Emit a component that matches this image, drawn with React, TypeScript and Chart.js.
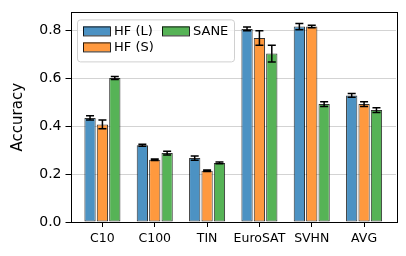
import React, { useEffect, useRef } from "react";
import { Chart, registerables } from "chart.js";

Chart.register(...registerables);

const categories = ["C10", "C100", "TIN", "EuroSAT", "SVHN", "AVG"];
const seriesNames = ["HF (L)", "HF (S)", "SANE"];
const hfL = [0.435, 0.321, 0.267, 0.807, 0.817, 0.529];
const hfS = [0.408, 0.26, 0.214, 0.769, 0.817, 0.493];
const sane = [0.602, 0.288, 0.247, 0.704, 0.493, 0.468];
const hfLErr = [0.009, 0.004, 0.009, 0.008, 0.013, 0.008];
const hfSErr = [0.018, 0.003, 0.003, 0.03, 0.005, 0.01];
const saneErr = [0.006, 0.008, 0.004, 0.035, 0.01, 0.01];
const yTicks = [0, 0.2, 0.4, 0.6, 0.8];

const colors = ["#4c92c3", "#ff993e", "#56b356"];
const FONT = "'DejaVu Sans', sans-serif";

export default function App() {
  const ref = useRef<HTMLCanvasElement | null>(null);
  useEffect(() => {
    document.body.style.margin = "0";
    const values = [hfL, hfS, sane];
    const errs = [hfLErr, hfSErr, saneErr];

    const errorBars = {
      id: "errorBars",
      afterDatasetsDraw(chart: any) {
        const ctx = chart.ctx;
        const ys = chart.scales.y;
        ctx.save();
        ctx.strokeStyle = "#000";
        ctx.lineWidth = 1.5;
        values.forEach((vals, di) => {
          const meta = chart.getDatasetMeta(di);
          meta.data.forEach((el: any, j: number) => {
            const x = el.x;
            const t = ys.getPixelForValue(vals[j] + errs[di][j]);
            const b = ys.getPixelForValue(vals[j] - errs[di][j]);
            ctx.beginPath();
            ctx.moveTo(x, t);
            ctx.lineTo(x, b);
            ctx.moveTo(x - 4, t);
            ctx.lineTo(x + 4, t);
            ctx.moveTo(x - 4, b);
            ctx.lineTo(x + 4, b);
            ctx.stroke();
          });
        });
        ctx.restore();
      },
    };

    const frameAndLegend = {
      id: "frameAndLegend",
      afterDraw(chart: any) {
        const ctx = chart.ctx;
        const a = chart.chartArea;
        ctx.save();
        // legend
        const lx = a.left + 6.5;
        const ly = a.top + 7;
        const lw = 157;
        const lh = 42;
        ctx.fillStyle = "rgba(255,255,255,0.8)";
        ctx.strokeStyle = "#d0d0d0";
        ctx.lineWidth = 1;
        ctx.beginPath();
        (ctx as any).roundRect(lx + 0.5, ly + 0.5, lw, lh, 3);
        ctx.fill();
        ctx.stroke();
        const entries = [
          { i: 0, col: 0, row: 0 },
          { i: 2, col: 1, row: 0 },
          { i: 1, col: 0, row: 1 },
        ];
        ctx.font = `13px ${FONT}`;
        ctx.textBaseline = "middle";
        entries.forEach((e) => {
          const px = lx + 6 + e.col * 79;
          const py = ly + 7 + e.row * 16;
          ctx.fillStyle = colors[e.i];
          ctx.fillRect(px, py, 27, 9);
          ctx.strokeStyle = "rgba(0,0,0,0.85)";
          ctx.lineWidth = 1;
          ctx.strokeRect(px + 0.5, py + 0.5, 27, 9);
          ctx.fillStyle = "#000";
          ctx.fillText(seriesNames[e.i], px + 31, py + 5);
        });
        // frame
        ctx.strokeStyle = "#000";
        ctx.lineWidth = 1;
        ctx.strokeRect(Math.round(a.left) + 0.5, Math.round(a.top) + 0.5, Math.round(a.right - a.left), Math.round(a.bottom - a.top));
        ctx.restore();
      },
    };

    const chart = new Chart(ref.current as HTMLCanvasElement, {
      type: "bar",
      data: {
        datasets: values.map((vals, di) => ({
          label: seriesNames[di],
          data: vals.map((v, i) => ({ x: i, y: v })),
          backgroundColor: colors[di],
          borderColor: "rgba(0,0,0,0.8)",
          borderWidth: 1,
          borderSkipped: false,
          categoryPercentage: 0.71,
          barPercentage: 0.91,
        })),
      },
      options: {
        responsive: false,
        animation: false,
        devicePixelRatio: 1,
        layout: { padding: { top: 10, right: 10, left: 0, bottom: 0 } },
        plugins: { legend: { display: false }, tooltip: { enabled: false } },
        scales: {
          x: {
            type: "linear",
            offset: false,
            min: -0.61,
            max: 5.61,
            afterBuildTicks: (s: any) => {
              s.ticks = categories.map((_, i) => ({ value: i }));
            },
            afterFit: (s: any) => {
              s.height = 34;
            },
            ticks: {
              callback: (v: any) => categories[v],
              font: { family: FONT, size: 12.5 },
              color: "#000",
              padding: 4,
              maxRotation: 0,
              autoSkip: false,
            },
            grid: { offset: false, drawOnChartArea: false, drawTicks: true, tickLength: 5, tickColor: "#000", tickWidth: 1 },
            border: { display: false },
          },
          y: {
            min: 0,
            max: 0.876,
            afterBuildTicks: (s: any) => {
              s.ticks = yTicks.map((v) => ({ value: v }));
            },
            afterFit: (s: any) => {
              s.width = 70.5;
            },
            ticks: {
              callback: (v: any) => Number(v).toFixed(1),
              font: { family: FONT, size: 14 },
              color: "#000",
              padding: 4,
            },
            grid: {
              color: "#c8c8c8",
              lineWidth: 0.8,
              borderDash: [4, 2],
              tickBorderDash: [],
              tickColor: "#000",
              tickLength: 5,
              tickWidth: 1,
            },
            border: { display: false },
            title: {
              display: true,
              text: "Accuracy",
              font: { family: FONT, size: 15 },
              color: "#000",
              padding: { top: 9, bottom: 0 },
            },
          },
        },
      },
      plugins: [errorBars, frameAndLegend],
    } as any);
    return () => chart.destroy();
  }, []);
  return (
    <div style={{ position: "absolute", left: 0, top: 0, width: 406, height: 256 }}>
      <canvas ref={ref} width={406} height={256} style={{ width: 406, height: 256, display: "block" }} />
    </div>
  );
}
